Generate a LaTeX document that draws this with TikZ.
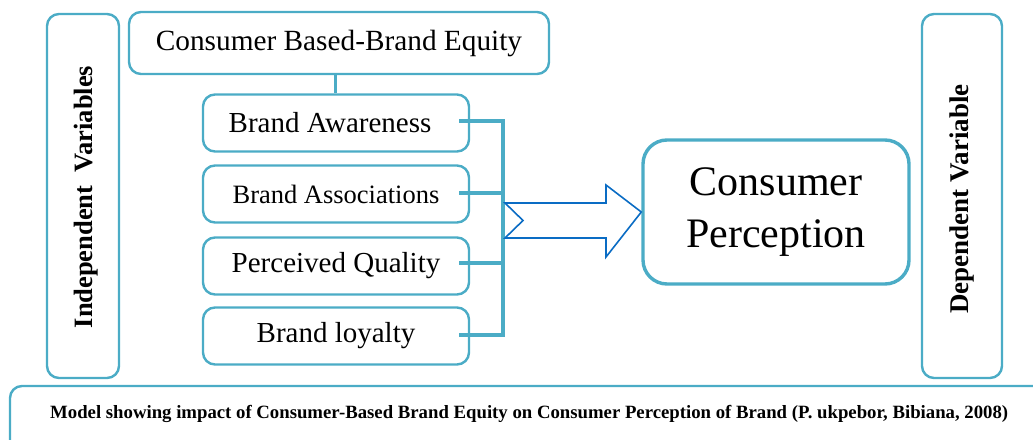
\documentclass[tikz,border=0pt]{standalone}
\usepackage{fontspec}
\setmainfont{Liberation Serif}
\usepackage{graphicx}
\definecolor{teal5}{HTML}{4BACC6}
\definecolor{arrowblue}{HTML}{0A6CC4}
\begin{document}
\begin{tikzpicture}[x=1pt,y=-1pt,
  box/.style={draw=teal5,line width=2.4pt,rounded corners=12pt,fill=white},
  factor/.style={box,minimum width=266pt,minimum height=57pt,inner sep=0pt,font=\fontsize{29}{32}\selectfont},
  link/.style={draw=teal5,line width=4pt}]
\useasboundingbox (0,0) rectangle (1033,439);
\clip (0,0) rectangle (1033,439);

% side boxes with the variable labels
\draw[box] (47,14) rectangle (119,378);
\node[rotate=90,font=\fontsize{26.5}{28}\selectfont\bfseries] (indep) at (86,197) {Independent\ \ Variables};
\draw[box] (922,14) rectangle (1002,378);
\node[rotate=90,font=\fontsize{27}{28}\selectfont\bfseries] (dep) at (962,199) {Dependent Variable};

% construct and its four dimensions
\node[box,minimum width=420pt,minimum height=62pt,inner sep=0pt,font=\fontsize{29.3}{32}\selectfont] (cbbe) at (339,43) {Consumer Based-Brand Equity};
\node[factor] (aw) at (336,123) {\hspace*{-12pt}Brand Awareness};
\node[factor,font=\fontsize{26.5}{30}\selectfont] (as) at (336,194) {Brand Associations};
\node[factor] (pq) at (336,266) {Perceived Quality};
\node[factor] (bl) at (336,336) {Brand loyalty};
\draw[draw=teal5,line width=3pt] (cbbe.south -| 335,0) -- (aw.north -| 335,0);

% bracket joining the dimensions
\coordinate (btop) at (503,121);
\coordinate (bbot) at (503,335);
\draw[link] (btop) -- (bbot);
\foreach \n/\y in {aw/121,as/193,pq/263,bl/335}
  \draw[link] (459,\y) -- (505,\y);

% outcome
\node[box,rounded corners=24pt,line width=3.4pt,minimum width=266pt,minimum height=144pt,inner sep=0pt,align=center,font=\fontsize{42}{52}\selectfont] (cp) at (776,212) {Consumer\\Perception};

% hollow block arrow
\draw[arrowblue,line width=1.6pt,fill=white,line join=miter]
  (505,203) -- (606,203) -- (606,185) -- (cp.west) -- (606,257) -- (606,238) -- (505,238) -- (523,220.5) -- cycle;

% caption
\draw[box] (10,386) rectangle (1060,460);
\node[anchor=base west,inner sep=0pt] (cap) at (50,418) {\resizebox{958pt}{!}{\fontsize{19}{20}\selectfont\bfseries Model showing impact of Consumer-Based Brand Equity on Consumer Perception of Brand (P. ukpebor, Bibiana, 2008)}};
\end{tikzpicture}
\end{document}
